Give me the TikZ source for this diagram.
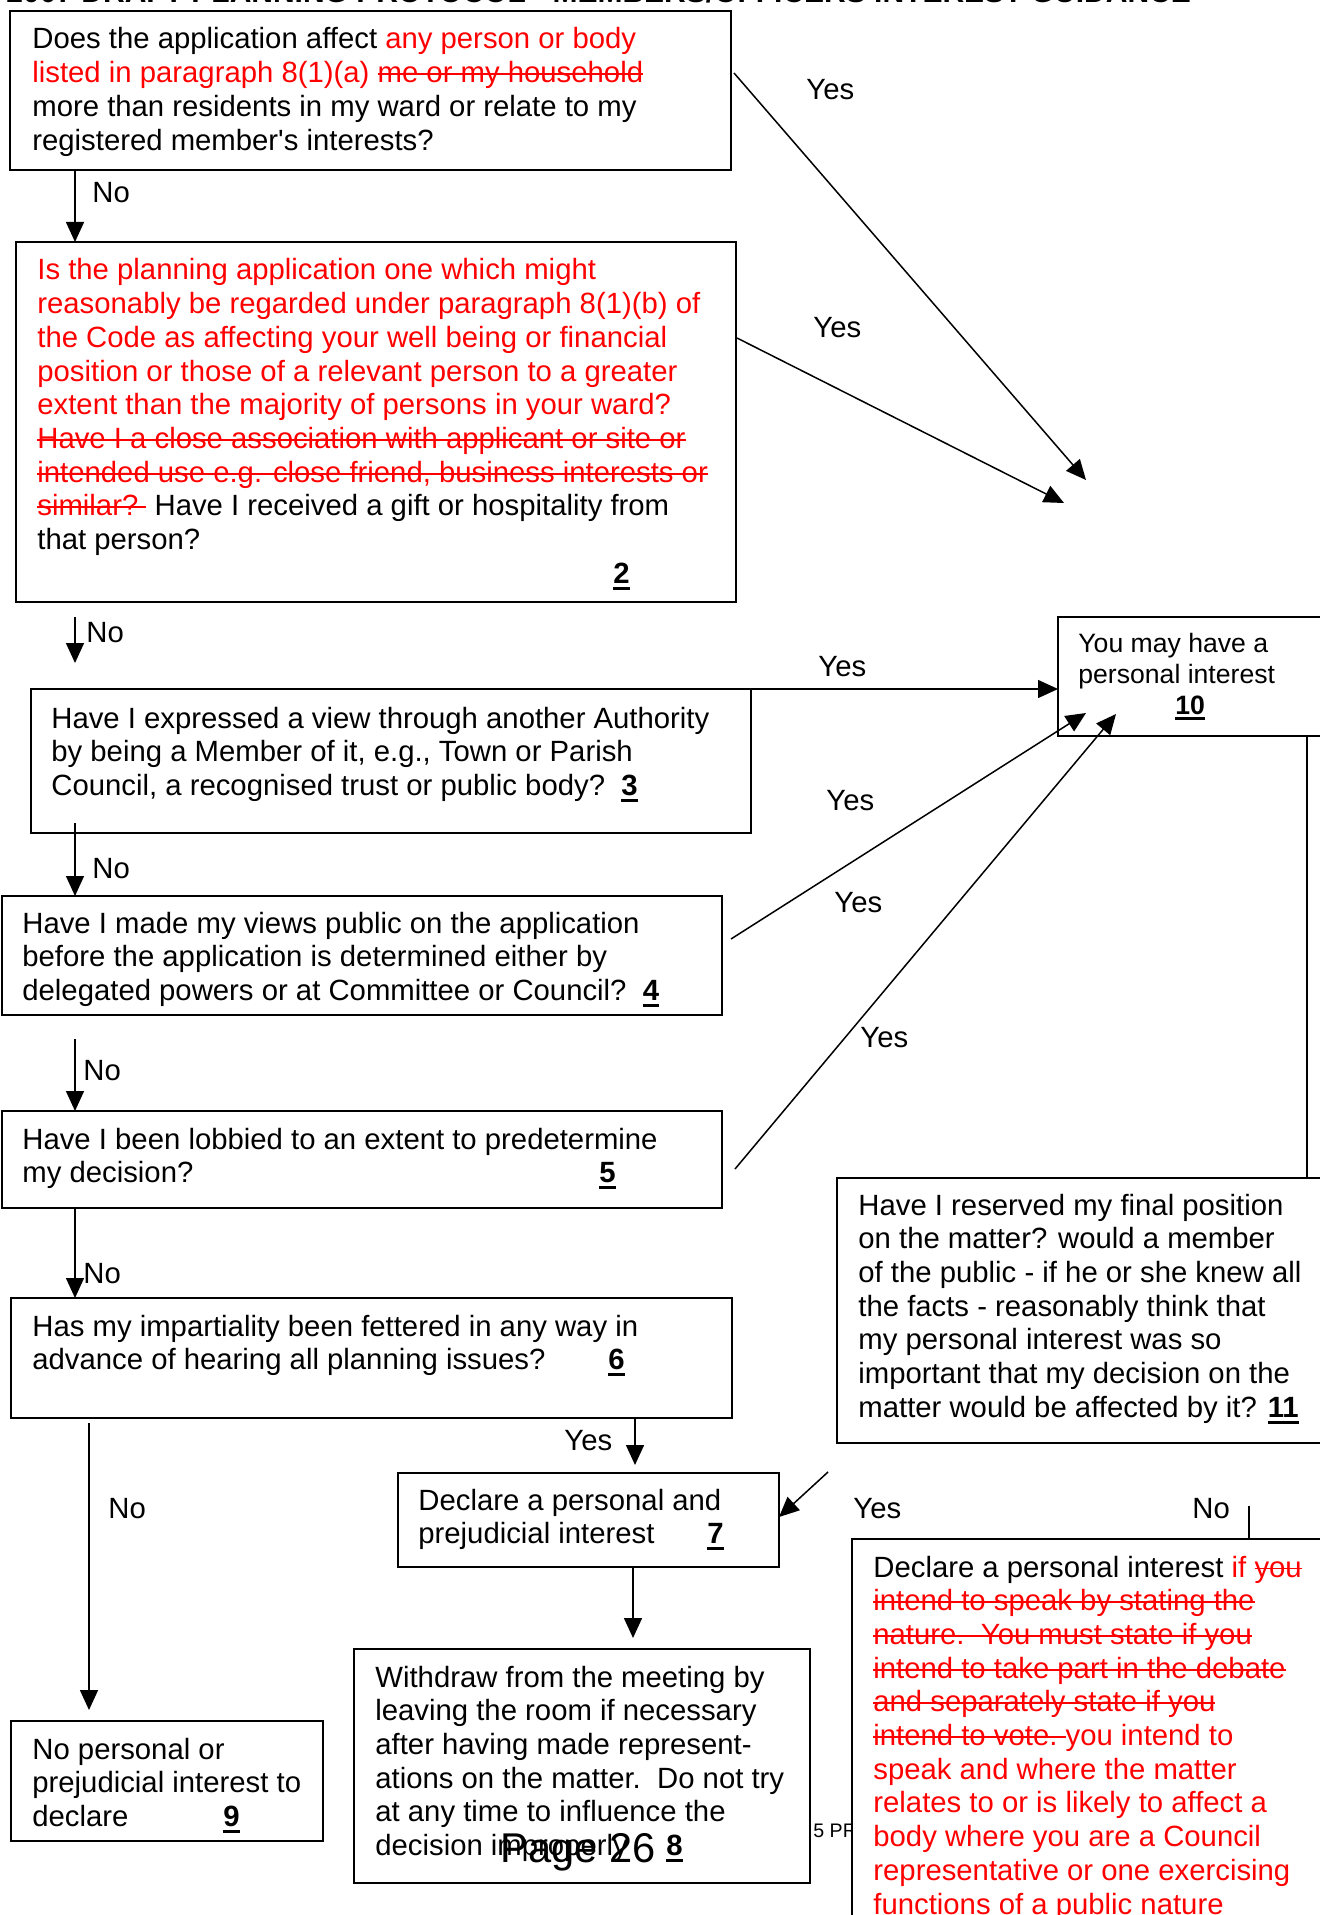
\documentclass[tikz,border=0pt]{standalone}
\usepackage{fontspec}
\setmainfont{Liberation Sans}[Ligatures=TeXOff]
\usetikzlibrary{arrows.meta,calc}
\newsavebox\mystrkbox
\newcommand\mainsz{\fontsize{14.65pt}{16.85pt}\selectfont}
\newcommand\tensz{\fontsize{13.3pt}{15.5pt}\selectfont}
\newcommand\R[1]{{\color{red}#1}}
\newcommand\strk[1]{\sbox\mystrkbox{#1}\rlap{\rule[0.26em]{\wd\mystrkbox}{0.9pt}}\usebox\mystrkbox}
\newcommand\bnum[1]{\sbox\mystrkbox{\textbf{#1}}\rlap{\rule[-0.22em]{\wd\mystrkbox}{1.4pt}}\usebox\mystrkbox}
\newcommand\lines[1]{\begin{tabular}[t]{@{}l@{}}#1\end{tabular}}
\newcommand\bx[5]{\node[box, anchor=north west, minimum width={(#4-#2)*0.5pt}, minimum height={(#5-#3)*0.5pt}] (#1) at (#2,#3) {};}
\begin{document}
\begin{tikzpicture}[x=0.5pt,y=-0.5pt,
  box/.style={draw, line width=0.9pt, inner sep=0pt, outer sep=0pt},
  txt/.style={inner sep=0pt, anchor=base west, font=\mainsz},
  lab/.style={inner sep=0pt, anchor=base west, font=\mainsz},
  arr/.style={line width=0.75pt, -{Triangle[length=10pt,width=9pt]}},
  ln/.style={line width=0.75pt}]
\useasboundingbox (0,0) rectangle (1319,1915);

% header (cut off at the top) and stray footer fragment
\node[inner sep=0pt, anchor=base west, font=\fontsize{15pt}{18pt}\selectfont\bfseries] (hdr) at (6,3) {2007 DRAFT PLANNING PROTOCOL - MEMBERS/OFFICERS INTEREST GUIDANCE};
\node[inner sep=0pt, anchor=base west, font=\fontsize{9.8pt}{11pt}\selectfont] (ftr) at (813,1837) {5 PR};

% boxes
\bx{b1}{10}{11}{731}{170}
\bx{b2}{16}{242}{736}{602}
\bx{b3}{31}{689}{751}{833}
\bx{b4}{2}{896}{722}{1015}
\bx{b5}{2}{1111}{722}{1208}
\bx{b6}{11}{1298}{732}{1418}
\bx{b7}{398}{1473}{779}{1567}
\bx{b8}{354}{1649}{810}{1883}
\bx{b9}{11}{1721}{323}{1841}
\bx{b10}{1058}{617}{1345}{736}
\bx{b11}{837}{1178}{1345}{1443}
\node[box, fill=white, anchor=north west, minimum width=246.5pt, minimum height=203pt] (b12) at (852,1539) {};

% box texts
\node[txt] (t1) at (32,49) {\lines{Does the application affect \R{any person or body}\\
\R{listed in paragraph 8(1)(a) \strk{me or my household}}\\
more than residents in my ward or relate to my\\
registered member's interests?}};

\node[txt] (t2) at (37,280) {\lines{\R{Is the planning application one which might}\\
\R{reasonably be regarded under paragraph 8(1)(b) of}\\
\R{the Code as affecting your well being or financial}\\
\R{position or those of a relevant person to a greater}\\
\R{extent than the majority of persons in your ward?}\\
\R{\strk{Have I a close association with applicant or site or}}\\
\R{\strk{intended use e.g. close friend, business interests or}}\\
\R{\strk{similar?~}} Have I received a gift or hospitality from\\
that person?\\
\hspace*{288pt}\bnum{2}}};

\node[txt] (t3) at (51,728) {\lines{Have I expressed a view through another Authority\\
by being a Member of it, e.g., Town or Parish\\
Council, a recognised trust or public body?~~\bnum{3}}};

\node[txt] (t4) at (22,933) {\lines{Have I made my views public on the application\\
before the application is determined either by\\
delegated powers or at Committee or Council?~~\bnum{4}}};

\node[txt] (t5) at (22,1149) {\lines{Have I been lobbied to an extent to predetermine\\
\makebox[288.5pt][l]{my decision?}\bnum{5}}};

\node[txt] (t6) at (32,1336) {\lines{Has my impartiality been fettered in any way in\\
\makebox[288pt][l]{advance of hearing all planning issues?}\bnum{6}}};

\node[txt] (t7) at (418,1510) {\lines{Declare a personal and\\
\makebox[144.5pt][l]{prejudicial interest}\bnum{7}}};

\node[txt] (t8) at (375,1687) {\lines{Withdraw from the meeting by\\
leaving the room if necessary\\
after having made represent-\\
ations on the matter.~~Do not try\\
at any time to influence the\\
\makebox[145.5pt][l]{decision improperly}\bnum{8}}};

\node[txt] (t9) at (32,1759) {\lines{No personal or\\
prejudicial interest to\\
\makebox[95.5pt][l]{declare}\bnum{9}}};

\node[txt, font=\tensz] (t10) at (1078,652) {\lines{You may have a\\
personal interest\\
\hspace*{48.5pt}\bnum{10}}};

\node[txt] (t11) at (858,1215) {\lines{Have I reserved my final position\\
on the matter? would a member\\
of the public - if he or she knew all\\
the facts - reasonably think that\\
my personal interest was so\\
important that my decision on the\\
matter would be affected by it? \bnum{11}}};

\node[txt] (t12) at (873,1577) {\lines{Declare a personal interest \R{if \strk{you}}\\
\R{\strk{intend to speak by stating the}}\\
\R{\strk{nature.~~You must state if you}}\\
\R{\strk{intend to take part in the debate}}\\
\R{\strk{and separately state if you}}\\
\R{\strk{intend to vote.~}you intend to}\\
\R{speak and where the matter}\\
\R{relates to or is likely to affect a}\\
\R{body where you are a Council}\\
\R{representative or one exercising}\\
\R{functions of a public nature}}};

\node[inner sep=0pt, anchor=base west, font=\fontsize{20.8pt}{24pt}\selectfont] (pg) at (500,1862) {Page 26};

% helper coordinates
\coordinate (cA) at (75,0);
\coordinate (cB) at (89,0);
\coordinate (cC) at (635,0);
\coordinate (cD) at (633,0);
\coordinate (cE) at (1307,0);
\coordinate (cF) at (1249,0);
\coordinate (e1) at (1086,480);
\coordinate (e2) at (1064,503);

% connectors
\draw[arr] (b1.south -| cA) -- (b2.north -| cA);
\draw[arr] ($(b1.north east)+(3,62)$) -- (e1);
\draw[arr] ($(b2.north east)+(1,96)$) -- (e2);
\draw[arr] ($(b2.south -| cA)+(0,15)$) -- ($(b3.north -| cA)+(0,-26)$);
\draw[arr] (b3.north east) -- (b10.west |- b3.north);
\draw[arr] ($(b3.south -| cA)+(0,-10)$) -- (b4.north -| cA);
\draw[arr] ($(b4.north east)+(9,43)$) -- ($(b10.south west)+(28,-23)$);
\draw[arr] ($(b4.south -| cA)+(0,24)$) -- (b5.north -| cA);
\draw[arr] ($(b5.north east)+(13,58)$) -- ($(b10.south west)+(58,-22)$);
\draw[arr] (b5.south -| cA) -- (b6.north -| cA);
\draw[arr] (b6.south -| cC) -- ($(b7.north -| cC)+(0,-8)$);
\draw[arr] ($(b6.south -| cB)+(0,5)$) -- ($(b9.north -| cB)+(0,-11)$);
\draw[arr] (b7.south -| cD) -- ($(b8.north -| cD)+(0,-11)$);
\draw[ln] (b10.south -| cE) -- (b11.north -| cE);
\draw[arr] ($(b11.south west)+(-9,29)$) -- ($(b7.north east)+(0,44)$);
\draw[ln] ($(b12.north -| cF)+(0,-33)$) -- (b12.north -| cF);

% labels
\node[lab] (y1) at (806,100) {Yes};
\node[lab] (y2) at (813,338) {Yes};
\node[lab] (n1) at (92,203) {No};
\node[lab] (n2) at (86,642) {No};
\node[lab] (y3) at (818,676) {Yes};
\node[lab] (y4) at (826,810) {Yes};
\node[lab] (y5) at (834,912) {Yes};
\node[lab] (y6) at (860,1047) {Yes};
\node[lab] (n3) at (92,878) {No};
\node[lab] (n4) at (83,1080) {No};
\node[lab] (n5) at (83,1283) {No};
\node[lab] (y7) at (564,1450) {Yes};
\node[lab] (n6) at (108,1518) {No};
\node[lab] (y8) at (853,1518) {Yes};
\node[lab] (n7) at (1192,1518) {No};
\end{tikzpicture}
\end{document}
